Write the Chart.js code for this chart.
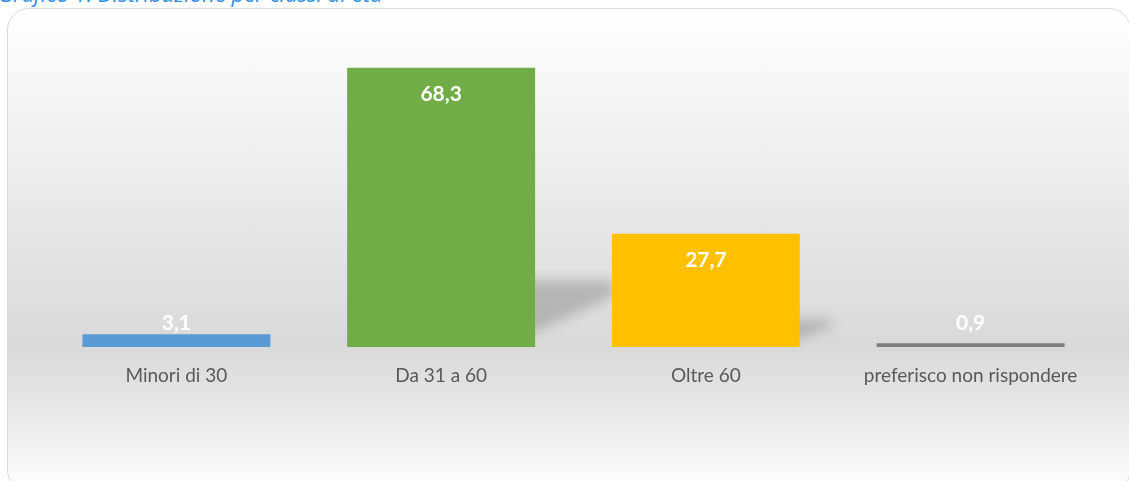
<!DOCTYPE html>
<html>
<head>
<meta charset="utf-8">
<script src="https://cdn.jsdelivr.net/npm/chart.js@4.4.0/dist/chart.umd.min.js"></script>
<style>
  html, body { margin: 0; padding: 0; background: #fff; }
  body { width: 1129px; height: 481px; position: relative; overflow: hidden; font-family: Lato, sans-serif; }
  #title { position: absolute; left: -2px; top: -22px; font-family: "Open Sans", sans-serif; font-size: 22px; line-height: 30px; font-style: italic; color: #2f8fe0; white-space: nowrap; }
  #card {
    position: absolute; left: 7px; top: 8px; width: 1124px; height: 484px;
    border: 1.5px solid #d9d9d9; border-radius: 22px; box-sizing: border-box;
    background: linear-gradient(to bottom, #ffffff 0%, #ececec 35%, #d9d9d9 70%, #e6e6e6 82%, #ffffff 100%);
  }
  #wrap { position: absolute; left: 0; top: 0; width: 1129px; height: 481px; }
</style>
</head>
<body>
<div id="title">Grafico 1. Distribuzione per classi di età</div>
<div id="card"></div>
<div id="wrap"><canvas id="chart"></canvas></div>
<script>
  // data
  const categories = ['Minori di 30', 'Da 31 a 60', 'Oltre 60', 'preferisco non rispondere'];
  const values = [3.1, 68.3, 27.7, 0.9];
  const barColors = ['#5b9bd5', '#70ad47', '#ffc000', '#7f7f7f'];

  // soft cast shadow behind the taller bars (Excel perspective shadow)
  const shadowPlugin = {
    id: 'castShadow',
    beforeDatasetsDraw(chart) {
      const ctx = chart.ctx;
      const bars = chart.getDatasetMeta(0).data;
      ctx.save();
      ctx.filter = 'blur(6px)';
      ctx.fillStyle = 'rgba(0,0,0,0.18)';
      bars.forEach(b => {
        const h = b.base - b.y;
        if (h < 40) return;
        const right = b.x + b.width / 2;
        ctx.beginPath();
        ctx.moveTo(right - 10, b.base - 0.04 * h);
        ctx.lineTo(right - 10, b.base - 0.24 * h);
        ctx.lineTo(right + 0.28 * h, b.base - 0.24 * h);
        ctx.lineTo(right + 0.28 * h, b.base - 0.18 * h);
        ctx.closePath();
        ctx.fill();
      });
      ctx.restore();
    }
  };

  // value labels: inside end for tall bars, above for tiny ones
  const labelPlugin = {
    id: 'valueLabels',
    afterDatasetsDraw(chart) {
      const ctx = chart.ctx;
      const bars = chart.getDatasetMeta(0).data;
      ctx.save();
      ctx.font = 'bold 21px Lato, sans-serif';
      ctx.fillStyle = '#ffffff';
      ctx.textAlign = 'center';
      ctx.textBaseline = 'middle';
      bars.forEach((b, i) => {
        const txt = values[i].toFixed(1).replace('.', ',');
        const h = b.base - b.y;
        const y = h > 40 ? b.y + 26 : Math.min(b.y - 10, b.base - 24);
        ctx.fillText(txt, b.x, y);
      });
      ctx.restore();
    }
  };

  new Chart(document.getElementById('chart'), {
    type: 'bar',
    data: {
      labels: categories,
      datasets: [{
        data: values,
        backgroundColor: barColors,
        borderWidth: 0,
        categoryPercentage: 1,
        barPercentage: 0.71
      }]
    },
    options: {
      responsive: true,
      maintainAspectRatio: false,
      animation: false,
      layout: { padding: { left: 44, right: 26, top: 20, bottom: 0 } },
      plugins: { legend: { display: false }, tooltip: { enabled: false } },
      scales: {
        x: {
          grid: { display: false, drawTicks: false },
          border: { display: false },
          ticks: { color: '#595959', font: { family: 'Lato, sans-serif', size: 19 }, padding: 17, maxRotation: 0 },
          afterFit(scale) { scale.height = 134; }
        },
        y: { display: false, min: 0, max: 80 }
      }
    },
    plugins: [shadowPlugin, labelPlugin]
  });
</script>
</body>
</html>
